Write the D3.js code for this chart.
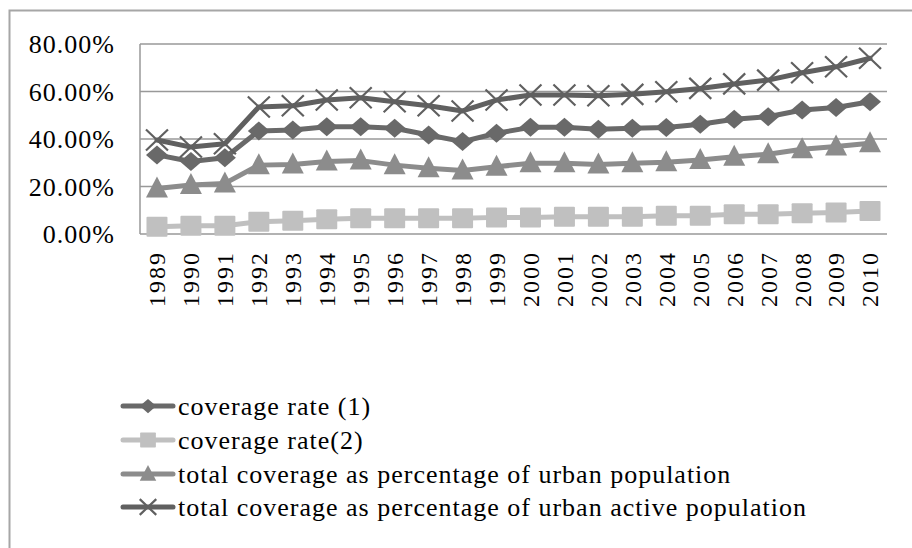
<!DOCTYPE html>
<html>
<head>
<meta charset="utf-8">
<script src="https://cdn.jsdelivr.net/npm/d3@7"></script>
<style>
  body { margin: 0; background: #fff; }
  text { font-family: "Liberation Serif", "DejaVu Serif", serif; fill: #000; }
</style>
</head>
<body>
<svg id="chart" width="912" height="548"></svg>
<script>
var years = ["1989", "1990", "1991", "1992", "1993", "1994", "1995", "1996", "1997", "1998", "1999",
  "2000", "2001", "2002", "2003", "2004", "2005", "2006", "2007", "2008", "2009", "2010"];

// values in percent
var coverageRate1 = [33.3, 30.5, 32.1, 43.4, 43.8, 45.2, 45.2, 44.5, 41.7, 38.9, 42.4,
  44.9, 44.9, 44.1, 44.5, 44.8, 46.2, 48.3, 49.4, 52.2, 53.3, 55.7];
var coverageRate2 = [3.1, 3.5, 3.5, 5.2, 5.6, 6.2, 6.6, 6.6, 6.6, 6.6, 7.0,
  7.0, 7.3, 7.3, 7.3, 7.7, 7.7, 8.3, 8.3, 8.7, 9.1, 9.7];
var urbanPop = [19.2, 20.6, 21.3, 29.0, 29.3, 30.5, 30.9, 29.0, 27.7, 26.7, 28.3,
  29.8, 29.8, 29.3, 29.8, 30.2, 31.2, 32.5, 33.6, 35.7, 36.8, 38.2];
var urbanActivePop = [39.6, 36.6, 38.0, 53.5, 54.0, 56.4, 57.4, 55.7, 54.0, 51.8, 56.4,
  58.5, 58.5, 58.2, 58.8, 59.9, 61.3, 63.2, 64.8, 67.9, 70.4, 74.0];

var yTicks = [0, 20, 40, 60, 80];

var seriesNames = ["coverage rate (1)", "coverage rate(2)",
  "total coverage as percentage of urban population",
  "total coverage as percentage of urban active population"];

var series = [
  {name: seriesNames[0], values: coverageRate1, color: "#696969", marker: "diamond"},
  {name: seriesNames[1], values: coverageRate2, color: "#c0c0c0", marker: "square"},
  {name: seriesNames[2], values: urbanPop, color: "#8c8c8c", marker: "triangle"},
  {name: seriesNames[3], values: urbanActivePop, color: "#606060", marker: "cross"}
];

var svg = d3.select("#chart");
var plot = {left: 140, right: 887, top: 44, bottom: 234};

// outer frame (only left and top edges show)
svg.append("path")
  .attr("d", "M9.5,548 V10.5 H912")
  .attr("fill", "none")
  .attr("stroke", "#a6a6a6")
  .attr("stroke-width", 2);

var xScale = d3.scaleBand()
  .domain(years)
  .range([plot.left, plot.right]);

var yScale = d3.scaleLinear()
  .domain([0, 80])
  .range([plot.bottom, plot.top]);

// gridlines
svg.append("g").selectAll("line")
  .data(yTicks)
  .enter().append("line")
    .attr("x1", plot.left)
    .attr("x2", plot.right)
    .attr("y1", (d) => yScale(d))
    .attr("y2", (d) => yScale(d))
    .attr("stroke", "#999")
    .attr("stroke-width", 1.5);

svg.append("line")
  .attr("x1", plot.left).attr("x2", plot.left)
  .attr("y1", plot.top).attr("y2", plot.bottom)
  .attr("stroke", "#999")
  .attr("stroke-width", 1.5);

// y tick labels
svg.append("g").selectAll("text")
  .data(yTicks)
  .enter().append("text")
    .attr("x", 115)
    .attr("y", (d) => yScale(d))
    .attr("dy", "0.35em")
    .attr("text-anchor", "end")
    .style("font-size", "26px")
    .style("letter-spacing", "1px")
    .text((d) => d3.format(".2f")(d) + "%");

// x tick labels, rotated
svg.append("g").selectAll("text")
  .data(years)
  .enter().append("text")
    .attr("transform", (d) => "translate(" + (xScale(d) + xScale.bandwidth() / 2) + ",251) rotate(-90)")
    .attr("dy", "0.35em")
    .attr("text-anchor", "end")
    .style("font-size", "24px")
    .style("letter-spacing", "2px")
    .text((d) => d);

function drawMarker(g, type, color, k) {
  if (type === "diamond") {
    g.append("path").attr("d", "M0,-9.5 L11,0 L0,9.5 L-11,0 Z").attr("fill", color);
  } else if (type === "square") {
    g.append("rect").attr("x", -10.5).attr("y", -10).attr("width", 21).attr("height", 20)
      .attr("rx", 1).attr("fill", color);
  } else if (type === "triangle") {
    g.append("path").attr("d", "M0,-12 L11,9 L-11,9 Z").attr("fill", color);
  } else {
    g.append("path").attr("d", "M-11,-10.5 L11,10.5 M-11,10.5 L11,-10.5")
      .attr("stroke", color).attr("stroke-width", 2.2 / k).attr("fill", "none");
  }
  g.attr("transform", g.attr("transform") + " scale(" + k + ")");
}

var line = d3.line()
  .x((d, i) => xScale(years[i]) + xScale.bandwidth() / 2)
  .y((d) => yScale(d));

series.forEach(function (s) {
  var g = svg.append("g");
  g.append("path")
    .attr("d", line(s.values))
    .attr("fill", "none")
    .attr("stroke", s.color)
    .attr("stroke-width", 5)
    .attr("stroke-linejoin", "round")
    .attr("stroke-linecap", "round");
  s.values.forEach(function (v, i) {
    var m = g.append("g")
      .attr("transform", "translate(" + (xScale(years[i]) + xScale.bandwidth() / 2) + "," + yScale(v) + ")");
    drawMarker(m, s.marker, s.color, 1);
  });
});

// legend
var legendY = [406, 440, 474, 507];
var legend = svg.append("g");
series.forEach(function (s, i) {
  var y = legendY[i];
  var g = legend.append("g");
  g.append("line")
    .attr("x1", 123).attr("x2", 173)
    .attr("y1", y).attr("y2", y)
    .attr("stroke", s.color)
    .attr("stroke-width", 5)
    .attr("stroke-linecap", "round");
  var m = g.append("g").attr("transform", "translate(148," + y + ")");
  drawMarker(m, s.marker, s.color, 0.75);
  g.append("text")
    .attr("x", 178)
    .attr("y", y)
    .attr("dy", "0.35em")
    .style("font-size", "26px")
    .style("letter-spacing", "1px")
    .text(s.name);
});
</script>
</body>
</html>
